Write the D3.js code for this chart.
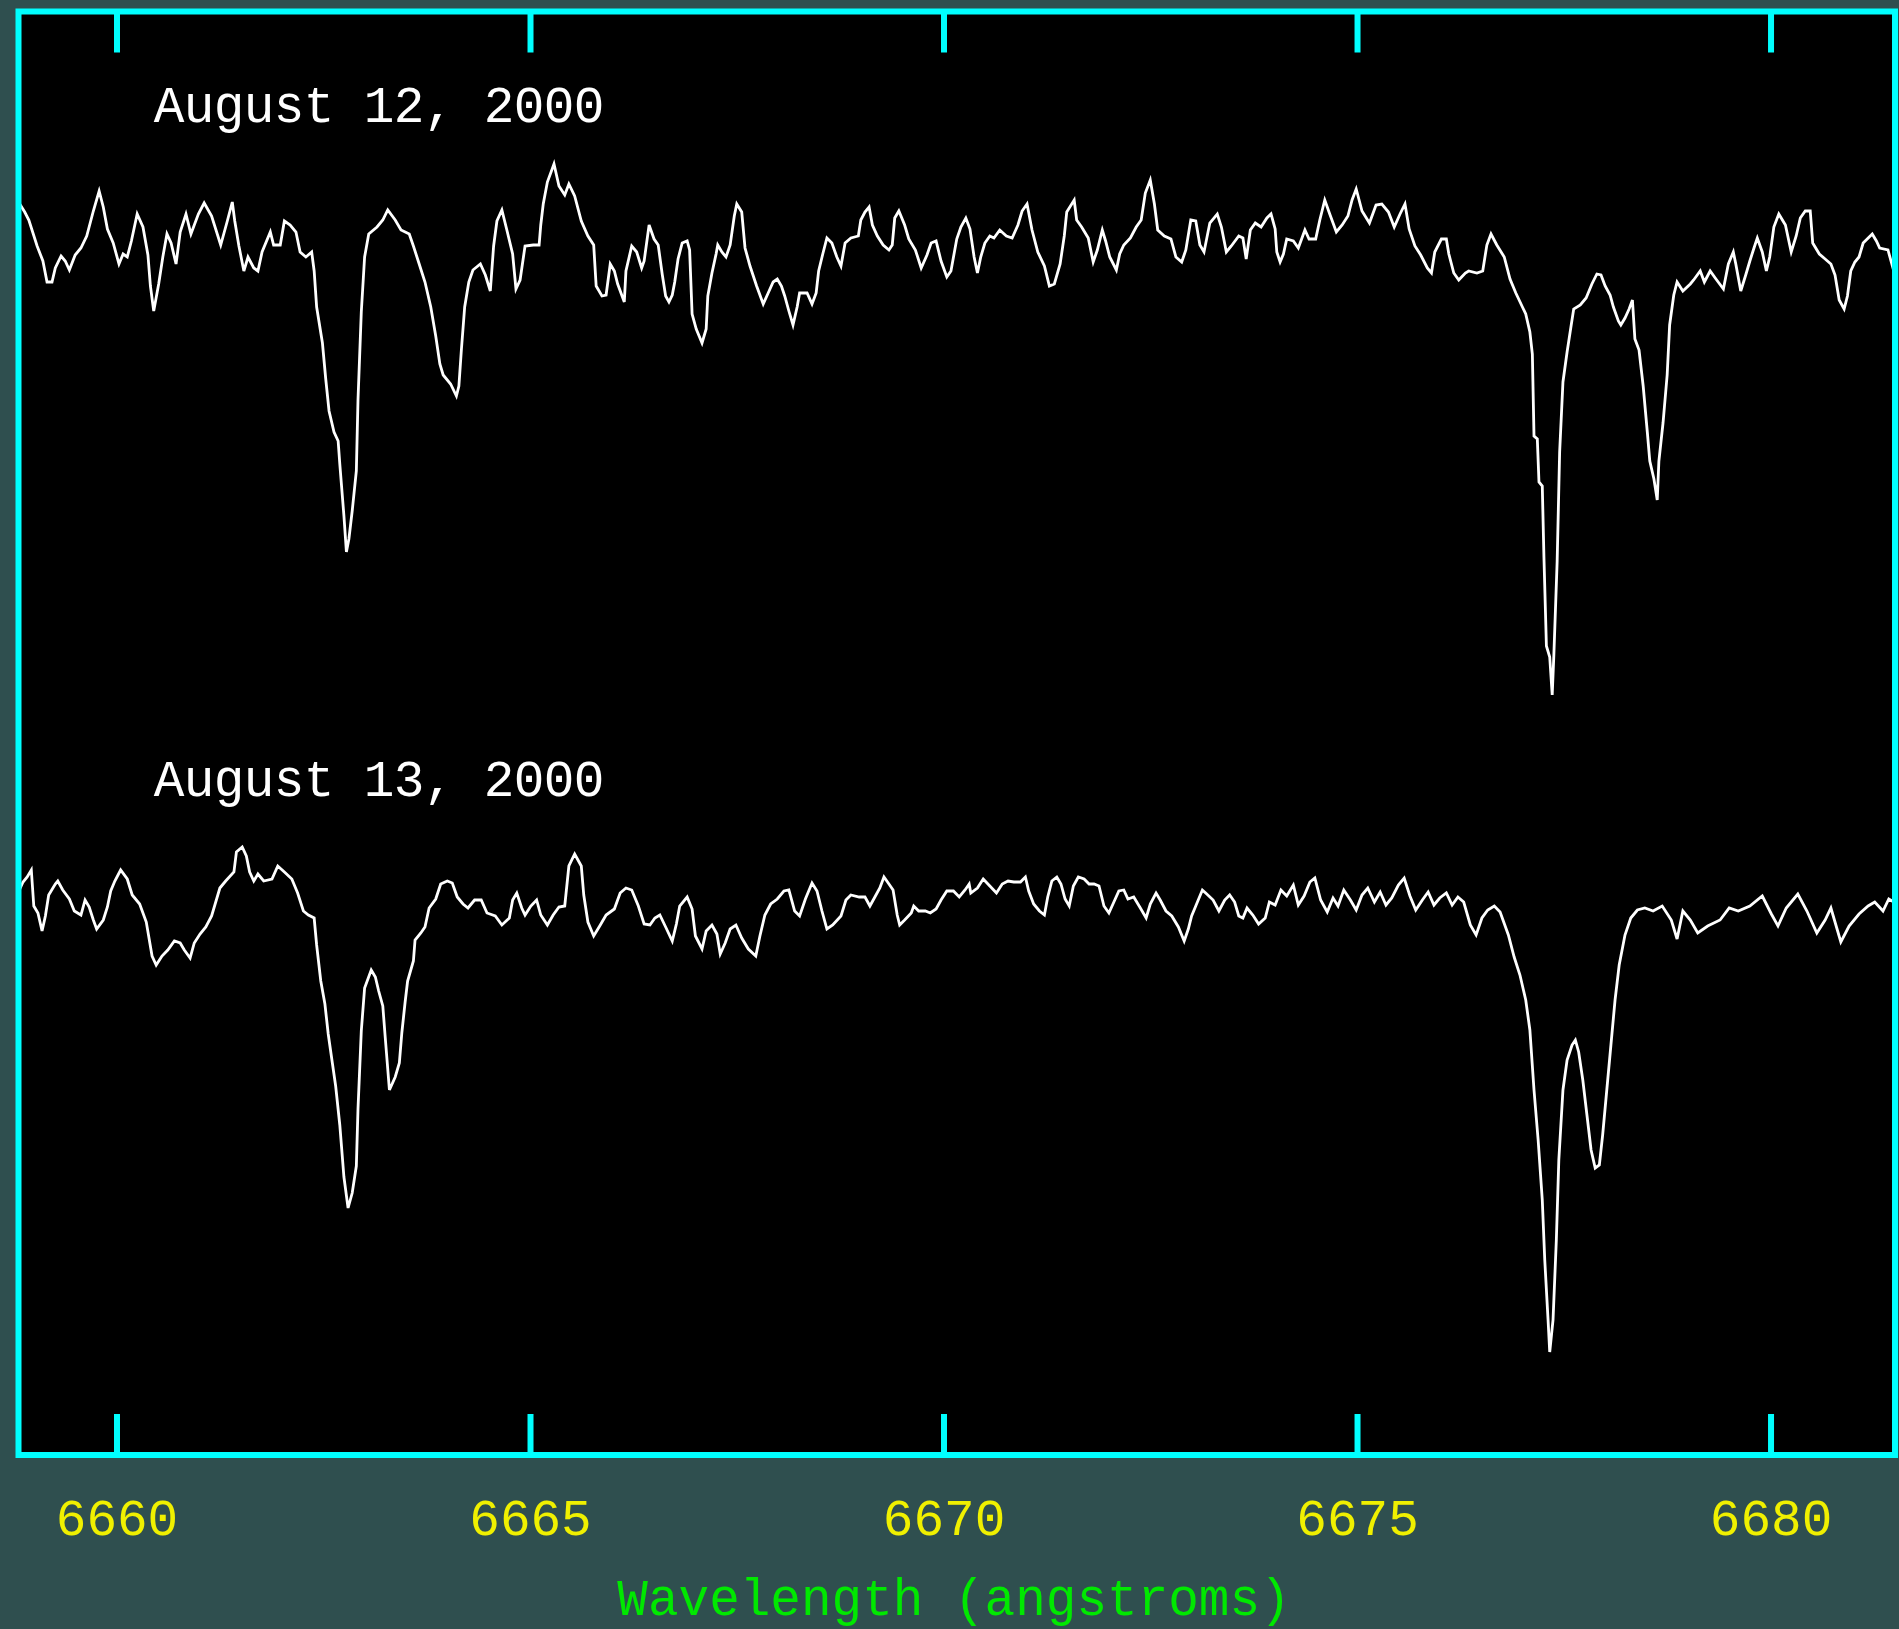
<!DOCTYPE html>
<html><head><meta charset="utf-8">
<script src="https://cdn.jsdelivr.net/npm/d3@7"></script>
<style>html,body{margin:0;padding:0;background:#2f4f4f;overflow:hidden}</style>
</head><body><svg id="chart" width="1899" height="1629"></svg>
<script>
// ---- data ----
const tickWavelengths = [6660, 6665, 6670, 6675, 6680];
const xAxisTitle = "Wavelength (angstroms)";
const seriesLabels = ["August 12, 2000", "August 13, 2000"];
const seriesOffsets = [0.662, 0];          // vertical offset added to each normalised spectrum
const labelPositions = [[6660.45, 1.118], [6660.45, 1.106]]; // [wavelength, relative flux] of each label baseline

const aug12Wavelength = [6658.83,6658.89,6658.94,6659.04,6659.11,6659.16,6659.22,6659.26,6659.33,6659.38,6659.43,6659.50,6659.57,6659.64,6659.72,6659.79,6659.84,6659.89,6659.96,6660.03,6660.08,6660.13,6660.18,6660.25,6660.32,6660.38,6660.41,6660.45,6660.51,6660.56,6660.61,6660.66,6660.72,6660.77,6660.84,6660.90,6660.99,6661.06,6661.15,6661.26,6661.34,6661.40,6661.43,6661.48,6661.54,6661.59,6661.66,6661.71,6661.76,6661.86,6661.90,6661.98,6662.03,6662.10,6662.17,6662.22,6662.29,6662.36,6662.39,6662.42,6662.49,6662.53,6662.57,6662.63,6662.68,6662.70,6662.75,6662.78,6662.81,6662.85,6662.90,6662.92,6662.96,6663.00,6663.05,6663.15,6663.22,6663.28,6663.37,6663.44,6663.54,6663.59,6663.66,6663.73,6663.80,6663.86,6663.91,6663.95,6664.04,6664.11,6664.14,6664.17,6664.21,6664.26,6664.31,6664.40,6664.46,6664.52,6664.56,6664.60,6664.66,6664.72,6664.79,6664.83,6664.88,6664.94,6665.04,6665.11,6665.13,6665.16,6665.21,6665.29,6665.35,6665.42,6665.47,6665.54,6665.62,6665.70,6665.77,6665.80,6665.87,6665.92,6665.97,6666.02,6666.06,6666.14,6666.16,6666.23,6666.29,6666.35,
6666.38,6666.44,6666.50,6666.55,6666.60,6666.64,6666.68,6666.72,6666.75,6666.79,6666.84,6666.90,6666.93,6666.96,6667.01,6667.08,6667.13,6667.15,6667.20,6667.25,6667.27,6667.32,6667.37,6667.42,6667.47,6667.50,6667.56,6667.60,6667.66,6667.74,6667.82,6667.88,6667.94,6667.99,6668.04,6668.08,6668.13,6668.18,6668.23,6668.26,6668.35,6668.41,6668.46,6668.49,6668.54,6668.59,6668.65,6668.71,6668.76,6668.81,6668.88,6668.97,6669.00,6669.05,6669.10,6669.14,6669.20,6669.27,6669.34,6669.38,6669.41,6669.46,6669.53,6669.58,6669.66,6669.73,6669.80,6669.85,6669.91,6669.97,6670.04,6670.09,6670.16,6670.21,6670.27,6670.32,6670.37,6670.41,6670.45,6670.50,6670.56,6670.61,6670.68,6670.76,6670.83,6670.90,6670.95,6671.01,6671.07,6671.14,6671.22,6671.28,6671.34,6671.41,6671.46,6671.49,6671.58,6671.61,6671.67,6671.75,6671.81,6671.86,6671.92,6671.96,6672.01,6672.09,6672.13,6672.18,6672.26,6672.33,6672.39,6672.44,6672.50,6672.55,6672.59,6672.67,6672.75,6672.81,6672.88,6672.93,6672.99,6673.05,6673.10,6673.15,6673.22,6673.31,6673.36,6673.42,6673.48,6673.57,6673.62,6673.66,6673.71,6673.77,6673.84,6673.91,
6673.96,6674.01,6674.03,6674.07,6674.11,6674.15,6674.23,6674.29,6674.37,6674.42,6674.50,6674.55,6674.61,6674.67,6674.75,6674.82,6674.89,6674.94,6674.99,6675.06,6675.15,6675.23,6675.30,6675.38,6675.45,6675.52,6675.58,6675.63,6675.70,6675.77,6675.85,6675.90,6675.94,6676.02,6676.08,6676.11,6676.17,6676.23,6676.31,6676.35,6676.45,6676.52,6676.57,6676.62,6676.69,6676.78,6676.85,6676.92,6677.00,6677.04,6677.09,6677.12,6677.14,6677.18,6677.20,6677.24,6677.26,6677.29,6677.33,6677.36,6677.38,6677.42,6677.45,6677.49,6677.54,6677.59,6677.62,6677.70,6677.77,6677.84,6677.90,6677.95,6678.00,6678.06,6678.10,6678.16,6678.19,6678.24,6678.29,6678.33,6678.36,6678.41,6678.46,6678.51,6678.54,6678.59,6678.63,6678.65,6678.70,6678.75,6678.78,6678.83,6678.87,6678.94,6679.03,6679.07,6679.15,6679.20,6679.27,6679.34,6679.43,6679.49,6679.55,6679.58,6679.64,6679.70,6679.75,6679.80,6679.84,6679.90,6679.95,6679.99,6680.04,6680.10,6680.18,6680.25,6680.31,6680.36,6680.42,6680.48,6680.51,6680.59,6680.66,6680.73,6680.78,6680.83,6680.89,6680.93,6680.97,6681.02,6681.07,6681.12,6681.23,6681.28,6681.32,6681.42,6681.49];
const aug12Flux = [1.036,1.028,1.020,0.994,0.979,0.958,0.958,0.972,0.984,0.979,0.970,0.985,0.992,1.004,1.029,1.049,1.033,1.011,0.997,0.976,0.986,0.983,0.999,1.026,1.013,0.985,0.954,0.929,0.956,0.983,1.006,0.997,0.976,1.008,1.026,1.006,1.026,1.037,1.024,0.995,1.019,1.038,1.019,0.994,0.969,0.983,0.972,0.969,0.988,1.008,0.995,0.995,1.019,1.015,1.008,0.988,0.983,0.988,0.969,0.933,0.897,0.861,0.829,0.808,0.799,0.776,0.724,0.688,0.701,0.729,0.769,0.840,0.928,0.983,1.006,1.013,1.020,1.030,1.020,1.010,1.006,0.994,0.976,0.958,0.933,0.904,0.876,0.865,0.856,0.844,0.854,0.890,0.933,0.958,0.970,0.976,0.965,0.949,0.994,1.019,1.030,1.010,0.986,0.951,0.960,0.994,0.995,0.995,1.015,1.036,1.058,1.076,1.054,1.045,1.056,1.044,1.019,1.004,0.995,0.954,0.944,0.945,0.976,0.969,0.956,0.938,0.969,0.994,0.988,0.972,
0.979,1.015,1.001,0.995,0.965,0.944,0.938,0.945,0.958,0.981,0.997,0.999,0.990,0.926,0.911,0.897,0.911,0.944,0.967,0.986,0.995,0.988,0.983,0.995,1.024,1.036,1.028,0.992,0.974,0.954,0.936,0.947,0.958,0.961,0.954,0.944,0.929,0.915,0.933,0.947,0.947,0.936,0.947,0.969,0.986,1.002,0.997,0.983,0.974,0.997,1.002,1.004,1.020,1.028,1.033,1.015,1.004,0.995,0.990,0.995,1.022,1.029,1.015,1.001,0.990,0.972,0.985,0.997,0.999,0.979,0.963,0.969,1.001,1.013,1.022,1.011,0.983,0.967,0.983,0.997,1.004,1.002,1.010,1.004,1.002,1.015,1.029,1.036,1.010,0.988,0.974,0.954,0.956,0.976,1.004,1.028,1.040,1.020,1.013,1.002,0.978,0.990,1.010,0.999,0.983,0.970,0.986,0.995,1.002,1.013,1.020,1.047,1.060,1.036,1.010,1.004,1.001,0.983,0.978,0.990,1.020,1.019,0.995,0.988,1.017,1.026,1.013,0.988,0.994,1.004,1.002,0.981,1.010,1.017,1.013,1.022,
1.026,1.011,0.988,0.978,0.986,1.001,0.999,0.992,1.010,1.001,1.001,1.020,1.040,1.026,1.008,1.015,1.024,1.040,1.051,1.029,1.017,1.035,1.036,1.028,1.013,1.026,1.036,1.011,0.994,0.985,0.972,0.967,0.988,1.001,1.001,0.986,0.967,0.960,0.967,0.969,0.967,0.969,0.995,1.006,0.995,0.983,0.961,0.947,0.933,0.926,0.908,0.886,0.804,0.801,0.758,0.754,0.683,0.594,0.583,0.545,0.585,0.679,0.788,0.858,0.888,0.915,0.931,0.935,0.942,0.956,0.966,0.965,0.954,0.945,0.933,0.919,0.915,0.922,0.931,0.940,0.901,0.890,0.854,0.808,0.779,0.761,0.740,0.779,0.817,0.865,0.915,0.945,0.958,0.949,0.956,0.960,0.969,0.958,0.969,0.961,0.951,0.976,0.988,0.976,0.949,0.965,0.979,0.992,1.002,0.988,0.969,0.983,1.013,1.026,1.015,0.988,1.004,1.022,1.029,1.029,0.997,0.986,0.981,0.976,0.965,0.940,0.931,0.944,0.969,0.978,0.983,0.997,1.006,0.999,0.992,0.990,0.969];

const aug13Wavelength = [6658.82,6658.87,6658.92,6658.97,6659.00,6659.05,6659.10,6659.14,6659.18,6659.26,6659.29,6659.35,6659.43,6659.49,6659.57,6659.62,6659.67,6659.72,6659.76,6659.84,6659.89,6659.93,6659.98,6660.05,6660.13,6660.19,6660.28,6660.36,6660.43,6660.48,6660.55,6660.62,6660.70,6660.77,6660.82,6660.89,6660.94,6661.01,6661.08,6661.15,6661.20,6661.25,6661.32,6661.42,6661.45,6661.52,6661.57,6661.61,6661.66,6661.71,6661.78,6661.88,6661.95,6662.03,6662.12,6662.19,6662.26,6662.32,6662.39,6662.42,6662.47,6662.52,6662.56,6662.61,6662.65,6662.70,6662.75,6662.80,6662.85,6662.90,6662.92,6662.96,6663.00,6663.08,6663.13,6663.17,6663.22,6663.25,6663.30,6663.37,6663.42,6663.45,6663.49,6663.52,6663.59,6663.61,6663.68,6663.73,6663.78,6663.86,6663.92,6664.00,6664.06,6664.12,6664.19,6664.25,6664.33,6664.41,6664.48,6664.58,6664.66,6664.75,6664.79,6664.84,6664.90,6664.94,6665.01,6665.08,6665.13,6665.21,6665.28,6665.35,6665.42,6665.47,6665.54,6665.62,6665.65,6665.70,6665.77,6665.85,6665.92,6666.02,6666.09,6666.16,6666.23,6666.31,
6666.38,6666.45,6666.51,6666.57,6666.64,6666.72,6666.77,6666.81,6666.90,6666.96,6667.00,6667.08,6667.13,6667.20,6667.26,6667.30,6667.36,6667.42,6667.49,6667.56,6667.64,6667.73,6667.78,6667.84,6667.91,6667.99,6668.07,6668.13,6668.20,6668.26,6668.33,6668.41,6668.47,6668.53,6668.59,6668.66,6668.76,6668.82,6668.88,6668.98,6669.05,6669.11,6669.17,6669.23,6669.28,6669.34,6669.39,6669.44,6669.47,6669.53,6669.61,6669.64,6669.70,6669.78,6669.84,6669.91,6669.97,6670.04,6670.12,6670.19,6670.26,6670.31,6670.33,6670.41,6670.48,6670.56,6670.64,6670.71,6670.78,6670.85,6670.93,6670.99,6671.03,6671.09,6671.16,6671.22,6671.26,6671.31,6671.37,6671.42,6671.47,6671.52,6671.57,6671.63,6671.70,6671.76,6671.82,6671.88,6671.94,6672.00,6672.06,6672.12,6672.18,6672.23,6672.30,6672.38,6672.45,6672.50,6672.57,6672.62,6672.69,6672.76,6672.84,6672.91,6672.96,6673.00,6673.05,6673.13,6673.17,6673.26,6673.33,6673.40,6673.46,6673.52,6673.57,6673.62,6673.67,6673.74,6673.81,6673.89,6673.94,
6674.01,6674.08,6674.15,6674.23,6674.29,6674.36,6674.43,6674.49,6674.56,6674.64,6674.71,6674.77,6674.84,6674.92,6674.99,6675.06,6675.13,6675.21,6675.28,6675.35,6675.42,6675.50,6675.57,6675.64,6675.71,6675.79,6675.86,6675.93,6676.00,6676.08,6676.15,6676.22,6676.29,6676.37,6676.44,6676.51,6676.58,6676.66,6676.73,6676.83,6676.90,6676.97,6677.04,6677.09,6677.14,6677.19,6677.24,6677.27,6677.31,6677.33,6677.37,6677.41,6677.44,6677.49,6677.54,6677.60,6677.64,6677.68,6677.73,6677.78,6677.83,6677.88,6677.93,6677.97,6678.02,6678.07,6678.12,6678.17,6678.24,6678.31,6678.39,6678.48,6678.58,6678.69,6678.80,6678.87,6678.94,6679.03,6679.12,6679.24,6679.39,6679.50,6679.61,6679.75,6679.90,6680.01,6680.09,6680.19,6680.33,6680.44,6680.56,6680.66,6680.73,6680.85,6680.95,6681.07,6681.18,6681.26,6681.36,6681.43,6681.49];
const aug13Flux = [1.011,1.020,1.025,1.032,0.996,0.989,0.971,0.986,1.007,1.018,1.021,1.012,1.003,0.991,0.987,1.002,0.995,0.982,0.973,0.982,0.995,1.011,1.021,1.032,1.023,1.007,0.998,0.980,0.946,0.937,0.946,0.952,0.961,0.959,0.952,0.944,0.959,0.968,0.975,0.986,1.000,1.014,1.021,1.030,1.050,1.055,1.046,1.030,1.021,1.028,1.021,1.023,1.036,1.030,1.023,1.009,0.991,0.987,0.984,0.957,0.921,0.898,0.868,0.839,0.816,0.777,0.725,0.694,0.709,0.736,0.793,0.871,0.914,0.932,0.925,0.911,0.896,0.864,0.812,0.825,0.839,0.869,0.900,0.921,0.941,0.962,0.969,0.975,0.994,1.003,1.018,1.021,1.019,1.005,0.998,0.994,1.002,1.002,0.989,0.986,0.977,0.984,1.002,1.009,0.994,0.987,0.996,1.002,0.987,0.977,0.987,0.995,0.996,1.036,1.048,1.036,1.007,0.980,0.966,0.977,0.987,0.993,1.009,1.014,1.012,0.996,
0.978,0.977,0.984,0.987,0.975,0.961,0.978,0.996,1.005,0.993,0.966,0.953,0.971,0.977,0.968,0.948,0.959,0.973,0.977,0.964,0.953,0.946,0.966,0.987,0.998,1.003,1.011,1.012,0.991,0.986,1.003,1.019,1.011,0.991,0.973,0.977,0.986,1.002,1.007,1.005,1.005,0.996,1.005,1.014,1.025,1.018,1.012,0.987,0.977,0.982,0.989,0.996,0.991,0.991,0.989,0.993,1.002,1.011,1.011,1.005,1.012,1.018,1.009,1.014,1.023,1.016,1.009,1.018,1.021,1.020,1.020,1.025,1.011,0.998,0.991,0.987,1.005,1.021,1.025,1.018,1.003,0.996,1.016,1.025,1.023,1.018,1.018,1.016,0.996,0.989,1.000,1.011,1.012,1.003,1.005,0.994,0.984,0.998,1.009,1.002,0.991,0.986,0.975,0.961,0.973,0.986,0.996,1.012,1.009,1.002,0.991,1.002,1.007,1.000,0.986,0.984,0.994,0.987,0.978,0.984,1.000,
0.997,1.012,1.006,1.017,0.997,1.006,1.020,1.024,1.002,0.990,1.004,0.996,1.012,1.002,0.992,1.007,1.014,1.000,1.010,0.997,1.004,1.017,1.024,1.006,0.992,1.002,1.010,0.997,1.004,1.009,0.997,1.005,1.000,0.977,0.967,0.984,0.992,0.996,0.990,0.967,0.945,0.927,0.902,0.872,0.812,0.762,0.702,0.642,0.582,0.550,0.582,0.662,0.742,0.812,0.842,0.857,0.862,0.850,0.822,0.787,0.752,0.734,0.737,0.767,0.812,0.857,0.902,0.937,0.967,0.984,0.992,0.994,0.991,0.996,0.982,0.963,0.991,0.982,0.969,0.976,0.982,0.994,0.991,0.996,1.006,0.988,0.976,0.994,1.008,0.991,0.969,0.982,0.994,0.960,0.976,0.988,0.996,1.000,0.991,1.003,1.000];

// ---- layout ----
const W = 1899, H = 1629;
const plot = {left: 18.5, top: 11.5, right: 1895, bottom: 1455};
const CYAN = "#00ffff", YELLOW = "#f0f000", GREEN = "#00e800";
const FONT = "'Liberation Mono', 'DejaVu Sans Mono', monospace";
const FS = 51;

const svg = d3.select("#chart");
svg.append("rect").attr("width", W).attr("height", H).attr("fill", "#2f4f4f");

const x = d3.scaleLinear().domain([6658.815, 6681.505]).range([plot.left, plot.right]);
const y = d3.scaleLinear().domain([0.447, 1.8905]).range([plot.bottom, plot.top]);

svg.append("defs").append("clipPath").attr("id", "clip")
  .append("rect").attr("x", plot.left).attr("y", plot.top)
  .attr("width", plot.right - plot.left).attr("height", plot.bottom - plot.top);

svg.append("rect").attr("x", plot.left).attr("y", plot.top)
  .attr("width", plot.right - plot.left).attr("height", plot.bottom - plot.top)
  .attr("fill", "#000");

const series = [
  {w: aug12Wavelength, f: aug12Flux, off: seriesOffsets[0]},
  {w: aug13Wavelength, f: aug13Flux, off: seriesOffsets[1]}
];
const line = d3.line().x(d => x(d[0])).y(d => y(d[1]));
const gLines = svg.append("g").attr("clip-path", "url(#clip)");
series.forEach(s => {
  const pts = s.w.map((w, i) => [w, s.f[i] + s.off]);
  gLines.append("path").datum(pts).attr("d", line)
    .attr("fill", "none").attr("stroke", "#fff").attr("stroke-width", 2.8)
    .attr("stroke-linejoin", "miter");
});

// series labels
seriesLabels.forEach((t, i) => {
  svg.append("text")
    .attr("x", x(labelPositions[i][0]))
    .attr("y", y(labelPositions[i][1] + seriesOffsets[i]))
    .attr("fill", "#fff").attr("font-family", FONT).attr("font-size", FS)
    .style("letter-spacing", "-0.6px")
    .text(t);
});

// axes
const bottomAxis = d3.axisBottom(x).tickValues(tickWavelengths).tickFormat(d3.format("d"))
  .tickSize(-41).tickSizeOuter(0).tickPadding(44);
const gB = svg.append("g").attr("transform", `translate(0,${plot.bottom})`).call(bottomAxis);
gB.select(".domain").remove();
gB.selectAll(".tick line").attr("stroke", CYAN).attr("stroke-width", 6);
gB.selectAll(".tick text").attr("fill", YELLOW).attr("font-family", FONT).attr("font-size", FS);

const topAxis = d3.axisTop(x).tickValues(tickWavelengths).tickFormat("").tickSize(-41).tickSizeOuter(0);
const gT = svg.append("g").attr("transform", `translate(0,${plot.top})`).call(topAxis);
gT.select(".domain").remove();
gT.selectAll(".tick line").attr("stroke", CYAN).attr("stroke-width", 6);

// frame
svg.append("rect").attr("x", plot.left).attr("y", plot.top)
  .attr("width", plot.right - plot.left).attr("height", plot.bottom - plot.top)
  .attr("fill", "none").attr("stroke", CYAN).attr("stroke-width", 6);

// axis title
svg.append("text")
  .attr("x", 954).attr("y", 1615)
  .attr("text-anchor", "middle").attr("fill", GREEN)
  .attr("font-family", FONT).attr("font-size", FS)
  .text(xAxisTitle);
</script>
</body></html>
